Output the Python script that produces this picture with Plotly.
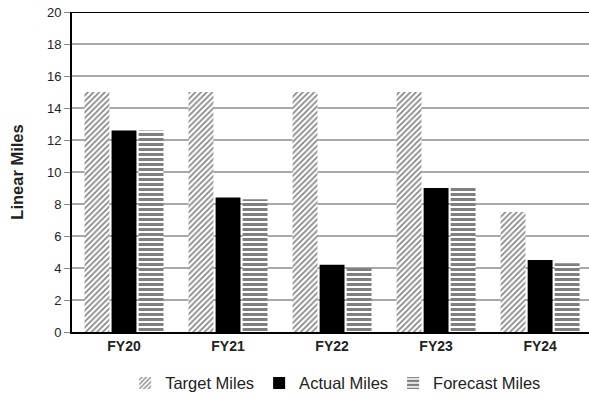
import plotly.graph_objects as go

categories = ["FY20", "FY21", "FY22", "FY23", "FY24"]
target_miles = [15, 15, 15, 15, 7.5]
actual_miles = [12.6, 8.4, 4.2, 9.0, 4.5]
forecast_miles = [12.6, 8.3, 4.0, 9.0, 4.3]
y_ticks = [0, 2, 4, 6, 8, 10, 12, 14, 16, 18, 20]

FONT = "Liberation Sans, Arial, sans-serif"

fig = go.Figure()
fig.add_trace(go.Bar(
    name="Target Miles", x=categories, y=target_miles,
    marker=dict(color="white", line=dict(width=0),
                pattern=dict(shape="/", fgcolor="#111", bgcolor="white", size=4, solidity=0.45)),
))
fig.add_trace(go.Bar(
    name="Actual Miles", x=categories, y=actual_miles,
    marker=dict(color="black", line=dict(width=0)),
))
fig.add_trace(go.Bar(
    name="Forecast Miles", x=categories, y=forecast_miles,
    marker=dict(color="white", line=dict(width=0),
                pattern=dict(shape="-", fgcolor="black", bgcolor="white", size=5, solidity=0.6)),
))

fig.update_layout(
    width=589, height=399,
    margin=dict(l=72, r=0, t=12, b=67, autoexpand=False),
    paper_bgcolor="white", plot_bgcolor="white",
    barmode="group", bargap=0.22, bargroupgap=0.08,
    font=dict(family=FONT, size=13, color="#222"),
    legend=dict(orientation="h", x=0.51, xanchor="center", y=-0.16, yanchor="middle",
                font=dict(size=16.5, color="#222"), itemwidth=30, traceorder="normal"),
    showlegend=True,
)
fig.update_xaxes(
    range=[-0.5, 4.47], showline=True, linecolor="black", linewidth=2,
    ticks="", tickfont=dict(size=14, color="#222", family=FONT, weight="bold"),
    showgrid=False, automargin=False,
)
fig.update_yaxes(
    range=[0, 20], tickvals=y_ticks, showline=True, linecolor="black", linewidth=2,
    ticks="outside", ticklen=6, tickcolor="#888", tickwidth=1,
    gridcolor="#a8a8a8", gridwidth=1.5,
    tickfont=dict(size=13, color="#222"),
    title=dict(text="<b>Linear Miles</b>", font=dict(size=16.5, color="#222"), standoff=19),
    zeroline=False, automargin=False,
)
fig.add_shape(type="line", xref="paper", yref="y", x0=0, x1=1, y0=20, y1=20,
              line=dict(color="black", width=2))

fig.write_html("out.html", config={"displayModeBar": False},
               post_script="document.body.style.margin='0';")
